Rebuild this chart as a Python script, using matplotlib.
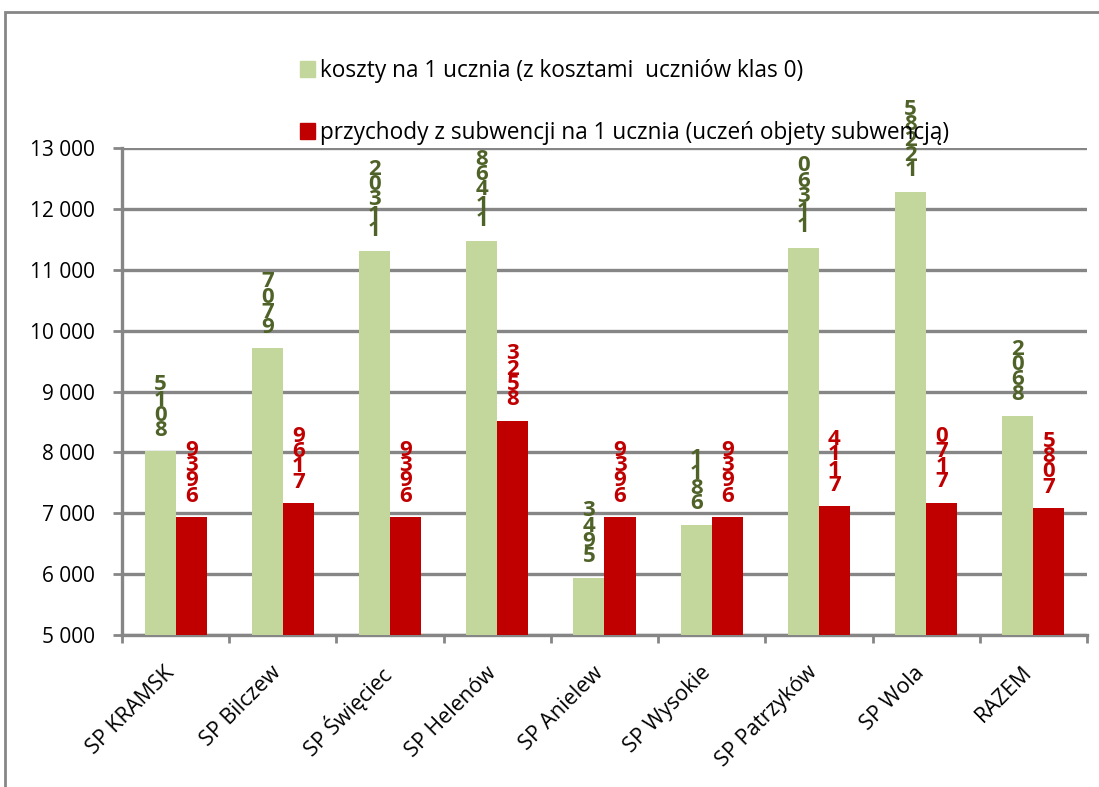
import matplotlib
matplotlib.use("Agg")
import matplotlib.pyplot as plt
from matplotlib.patches import Rectangle, Patch
from matplotlib.transforms import ScaledTranslation
import numpy as np

categories = ["SP KRAMSK", "SP Bilczew", "SP Święciec", "SP Helenów", "SP Anielew",
              "SP Wysokie", "SP Patrzyków", "SP Wola", "RAZEM"]
koszty = [8015, 9707, 11302, 11468, 5943, 6811, 11360, 12285, 8602]
przychody = [6939, 7169, 6939, 8523, 6939, 6939, 7114, 7170, 7085]
series_names = ["koszty na 1 ucznia (z kosztami  uczniów klas 0)",
                "przychody z subwencji na 1 ucznia (uczeń objety subwencją)"]
yticks = [5000, 6000, 7000, 8000, 9000, 10000, 11000, 12000, 13000]
ytick_labels = ["5 000", "6 000", "7 000", "8 000", "9 000", "10 000", "11 000", "12 000", "13 000"]

GREEN = "#C3D69B"
RED = "#C00000"
GREEN_TXT = "#4F6228"
GRAY = "#868686"

plt.rcParams['font.family'] = ['Open Sans', 'DejaVu Sans']

fig = plt.figure(figsize=(10.99, 7.87), dpi=100)
fig.patches.append(Rectangle((5/1099, -0.1), 1.2, (787-12)/787 + 0.1, transform=fig.transFigure,
                             fill=False, edgecolor=GRAY, linewidth=2, zorder=0))
ax = fig.add_axes([122/1099, 1-635/787, (1087-122)/1099, (635-148)/787])

x = np.arange(len(categories))
w = 0.29
ax.bar(x - w/2, koszty, w, color=GREEN, zorder=3, label=series_names[0])
ax.bar(x + w/2, przychody, w, color=RED, zorder=3, label=series_names[1])

def stacked(v):
    return "\n".join(reversed(str(v)))

for vals, off, col in [(koszty, -w/2, GREEN_TXT), (przychody, w/2, RED)]:
    for xi, v in zip(x, vals):
        ax.annotate(stacked(v), xy=(xi + off, v), xytext=(0, 7.5), textcoords='offset points',
                    ha='center', va='bottom', color=col, fontsize=16, fontweight='bold',
                    linespacing=0.64, zorder=6, annotation_clip=False)

ax.set_ylim(5000, 13000)
ax.set_xlim(-0.5, len(categories) - 0.5)
ax.set_yticks(yticks)
ax.set_yticklabels(ytick_labels, fontsize=15)
ax.yaxis.grid(True, color=GRAY, linewidth=2.4, zorder=1)
ax.set_axisbelow(True)
ax.set_xticks(x)
ax.set_xticklabels(categories, rotation=45, ha='right', rotation_mode='anchor', fontsize=15.5)
ax.set_xticks(np.arange(len(categories) + 1) - 0.5, minor=True)
ax.tick_params(axis='x', which='major', length=0, pad=16)
ax.tick_params(axis='x', which='minor', length=6, width=2, color=GRAY)
ax.tick_params(axis='y', length=6.5, width=2, color=GRAY, pad=13)
off = ScaledTranslation(-0.12, -0.05, fig.dpi_scale_trans)
for lab in ax.get_xticklabels():
    lab.set_transform(lab.get_transform() + off)
for s in ['top', 'right']:
    ax.spines[s].set_visible(False)
for s in ['left', 'bottom']:
    ax.spines[s].set_color(GRAY)
    ax.spines[s].set_linewidth(2.4)

handles = [Patch(color=GREEN), Patch(color=RED)]
leg = fig.legend(handles, series_names, loc='upper left', bbox_to_anchor=(289/1099, 1-48/787),
                 frameon=False, fontsize=16.3, handlelength=0.66, handleheight=0.7,
                 handletextpad=0.2, labelspacing=1.65, borderpad=0)
leg.set_zorder(2)

fig.savefig("out.png", dpi=100)
